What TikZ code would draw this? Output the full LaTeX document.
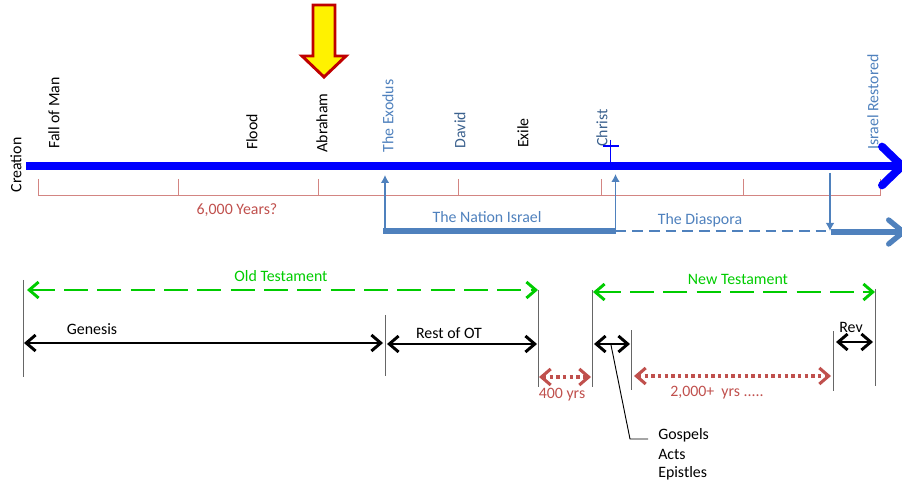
\documentclass[tikz,border=0pt]{standalone}
\usepackage{fontspec}
\setmainfont{Carlito}
\usetikzlibrary{arrows.meta}
\definecolor{tlblue}{HTML}{0000FF}
\definecolor{steel}{HTML}{4F81BD}
\definecolor{brick}{HTML}{C0504D}
\definecolor{ntgreen}{HTML}{00CC00}
\tikzset{
  lab/.style={font=\fontsize{11.9pt}{13pt}\selectfont,inner sep=0pt,anchor=center},
  vlab/.style={lab,rotate=90},
  tick/.style={brick!70,line width=0.75pt},
  bound/.style={black!60,line width=0.75pt},
  span/.style={black,line width=2.2pt,{Straight Barb[length=7pt,width=12pt]}-{Straight Barb[length=7pt,width=12pt]}},
  testament/.style={ntgreen,line width=2.2pt,dash pattern=on 18pt off 7pt,{Straight Barb[length=7pt,width=12pt]}-{Straight Barb[length=7pt,width=12pt]}},
  gap/.style={brick,line width=2.3pt,dash pattern=on 2.6pt off 2.4pt,{Straight Barb[length=7pt,width=12pt]}-{Straight Barb[length=7pt,width=12pt]}},
  uparrow/.style={steel,line width=1.1pt,-{Latex[length=6pt,width=6.5pt]}}
}
\begin{document}
\begin{tikzpicture}[x=0.75pt,y=-0.75pt]
\useasboundingbox (0,0) rectangle (902,484);
\clip (0,0) rectangle (902,484);
% coordinates
\coordinate (tlA) at (26,166); \coordinate (tlB) at (906,166);
\coordinate (crA) at (610.5,140); \coordinate (crB) at (610.5,163);
\coordinate (crC) at (603,146); \coordinate (crD) at (618.5,146);
\foreach \n/\x in {t1/38,t2/178,t3/318,t4/458,t5/601,t6/743,t7/880}{
  \coordinate (\n) at (\x,179); \coordinate (\n b) at (\x,196);
}
\coordinate (exA) at (385,231); \coordinate (exB) at (385,175);
\coordinate (chA) at (615.5,231); \coordinate (chB) at (615.5,174);
\coordinate (diA) at (830,173); \coordinate (diB) at (830,231);
\coordinate (naA) at (383,231); \coordinate (diC) at (831,232); \coordinate (diD) at (906,232);
% ticks
\foreach \n in {t1,t2,t3,t4,t5,t6,t7}{\draw[tick] (\n) -- (\n b);}
\draw[tick] (t1b) -- (t7b);
% Abraham pointer
\draw[draw=red!75!black,fill=yellow,line width=2.2pt,line join=miter]
  (313,5) -- (335,5) -- (335,56) -- (346,56) -- (324,77) -- (302,56) -- (313,56) -- cycle;
% Israel
\draw[steel,line width=3.8pt] (naA) -- (chA);
\draw[steel,line width=1.5pt,dash pattern=on 8pt off 4.5pt] (chA) -- (diB);
\draw[steel,line width=4pt,-{Straight Barb[length=11pt,width=18pt,round]}] (diC) -- (diD);
\draw[uparrow] (exA) -- (exB);
\draw[uparrow] (chA) -- (chB);
\draw[uparrow] (diA) -- (diB);
% rotated labels
\node[vlab] (creation) at (16,165) {Creation};
\node[vlab] (fall) at (54,113) {Fall of Man};
\node[vlab] (flood) at (252,132) {Flood};
\node[vlab] (abraham) at (322,123) {Abraham};
\node[vlab,text=steel] (exodus) at (388,116) {The Exodus};
\node[vlab,text=steel!75!black] (david) at (460,130) {David};
\node[vlab] (exile) at (523,133) {Exile};
\node[vlab,text=steel!75!black] (christ) at (602,128) {Christ};
\node[vlab,text=steel] (restored) at (873,102) {Israel Restored};
% main timeline, over its labels
\draw[tlblue,line width=6pt,-{Straight Barb[length=15pt,width=29pt,round]}] (tlA) -- (tlB);
\draw[tlblue,line width=1.3pt] (crA) -- (crB);
\draw[tlblue,line width=1.3pt] (crC) -- (crD);
% horizontal labels
\node[lab,text=brick] (years) at (237,210) {6,000 Years?};
\node[lab,text=steel] (nation) at (487,217) {The Nation Israel};
\node[lab,text=steel] (diaspora) at (700,220) {The Diaspora};
\node[lab,text=ntgreen] (ot) at (281,276) {Old Testament};
\node[lab,text=ntgreen] (nt) at (738,279) {New Testament};
\node[lab] (genesis) at (92,329) {Genesis};
\node[lab] (rest) at (449,333) {Rest of OT};
\node[lab] (rev) at (851,327) {Rev};
\node[lab,text=brick] (four) at (562,395) {400 yrs};
\node[lab,text=brick] (two) at (717,393) {2,000+~~yrs .....};
\node[lab,anchor=west] (gospels) at (658,435) {Gospels};
\node[lab,anchor=west] (acts) at (658,454) {Acts};
\node[lab,anchor=west] (epistles) at (658,473) {Epistles};
% boundaries
\foreach \n/\x/\a/\b in {b1/23/280/377,b2/385/315/376,b3/538/290/387,b4/592/290/387,b5/631/330/390,b6/833/331/391,b7/875/289/386}{
  \coordinate (\n t) at (\x,\a); \coordinate (\n e) at (\x,\b);
  \draw[bound] (\n t) -- (\n e);
}
% spans
\coordinate (otA) at (27,290); \coordinate (otB) at (538,290);
\coordinate (ntA) at (593,292); \coordinate (ntB) at (875,292);
\draw[testament] (otA) -- (otB);
\draw[testament] (ntA) -- (ntB);
\coordinate (s1) at (24,343); \coordinate (s2) at (383,343);
\coordinate (s3) at (387,344); \coordinate (s4) at (537,344);
\coordinate (s5) at (594,344); \coordinate (s6) at (630,344);
\coordinate (s7) at (836,342); \coordinate (s8) at (873,342);
\draw[span] (s1) -- (s2);
\draw[span] (s3) -- (s4);
\draw[span] (s5) -- (s6);
\draw[span] (s7) -- (s8);
\coordinate (g1) at (539,377); \coordinate (g2) at (591,377);
\coordinate (g3) at (634,376); \coordinate (g4) at (831,376);
\draw[gap] (g1) -- (g2);
\draw[gap] (g3) -- (g4);
% leader
\coordinate (l1) at (611,345); \coordinate (l2) at (630,439); \coordinate (l3) at (648,439);
\draw[black,line width=0.7pt] (l1) -- (l2) -- (l3);
\end{tikzpicture}
\end{document}
